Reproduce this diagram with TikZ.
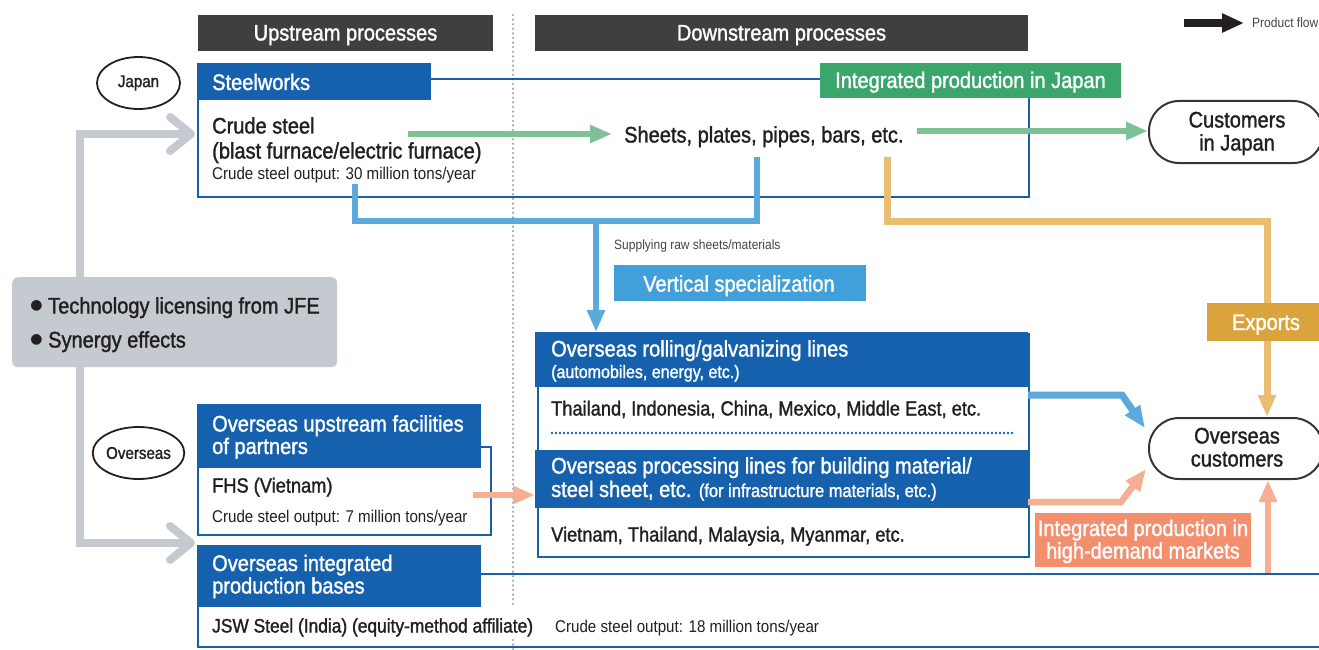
\documentclass[tikz,border=0pt]{standalone}
\usepackage{fontspec}
\setmainfont{Liberation Sans}[FakeStretch=0.89]
\newfontfamily\medfont{Liberation Sans}[FakeStretch=0.89, FakeBold=1.4]
\newfontfamily\bulfont{DejaVu Sans}
\usetikzlibrary{arrows.meta,shapes.geometric}
\definecolor{hdr}{HTML}{3F3F3F}
\definecolor{jblue}{HTML}{1561AD}
\definecolor{lblue}{HTML}{5CA9DC}
\definecolor{vsblue}{HTML}{41A0DA}
\definecolor{jgreen}{HTML}{3AA66C}
\definecolor{lgreen}{HTML}{7EC197}
\definecolor{lorange}{HTML}{E9BE70}
\definecolor{exbox}{HTML}{DBA33B}
\definecolor{lsalmon}{HTML}{F7AF94}
\definecolor{salbox}{HTML}{F48F6E}
\definecolor{lgray}{HTML}{C4CAD0}
\definecolor{dotgray}{HTML}{9AA3AD}
\definecolor{ink}{HTML}{231F20}
\definecolor{midgray}{HTML}{444444}
\tikzset{
  txt/.style={inner sep=0pt, anchor=base west, text=ink},
  big/.style={font=\medfont\fontsize{22.5}{24}\selectfont},
  med/.style={font=\medfont\fontsize{20.5}{22}\selectfont},
  small/.style={font=\fontsize{17}{19}\selectfont},
  tiny/.style={font=\fontsize{13.5}{15}\selectfont},
  fillbox/.style={anchor=north west, inner sep=0pt, draw=none},
  outline/.style={draw=jblue, line width=2pt, anchor=north west, inner sep=0pt},
  stadium/.style={draw=ink!90, line width=2pt, rounded corners=30pt, anchor=north west, inner sep=0pt},
  oval/.style={draw=ink, line width=1.8pt, ellipse, inner sep=0pt, minimum width=83pt, minimum height=52pt, text=ink, font=\medfont\fontsize{17}{19}\selectfont},
  flow/.style={line width=6.5pt, -{Triangle[width=17pt,length=22pt]}},
  gline/.style={lgray, line width=8pt},
  chev/.style={lgray, line width=8pt, line cap=round, line join=round},
}
\begin{document}
\begin{tikzpicture}[x=1pt,y=-1pt]
\useasboundingbox (0,0) rectangle (1319,650);

% divider
\coordinate (divT) at (513,15); \coordinate (divM) at (513,607);
\coordinate (divN) at (513,640); \coordinate (divB) at (513,652);
\draw[dotgray, line width=2.4pt, dash pattern=on 0pt off 4.6pt, line cap=round] (divT) -- (divM);
\draw[dotgray, line width=2.4pt, dash pattern=on 0pt off 4.6pt, line cap=round] (divN) -- (divB);

% column headers
\node[fillbox, fill=hdr, minimum width=295pt, minimum height=36pt] (uph) at (198,15) {};
\node[txt, anchor=base, text=white, big] (upt) at (345.5,40.5) {Upstream processes};
\node[fillbox, fill=hdr, minimum width=493pt, minimum height=36pt] (dnh) at (535,15) {};
\node[txt, anchor=base, text=white, big] (dnt) at (781.5,40.5) {Downstream processes};

% legend
\coordinate (lgs) at (1184,23); \coordinate (lge) at (1244,23);
\draw[line width=8pt, ink, -{Triangle[width=18pt,length=22pt]}] (lgs) -- (lge);
\node[txt, tiny, text=midgray] (lgt) at (1252,28) {Product flow};

% region ovals
\node[oval] (jp) at (138.5,83) {Japan};
\node[oval] (os) at (138.5,453) {Overseas};

% outlines
\node[outline, minimum width=831pt, minimum height=118pt] (swbox) at (197,78) {};
\node[outline, minimum width=293pt, minimum height=88pt] (oubox) at (197,446) {};
\node[outline, minimum width=1150pt, minimum height=73pt] (oibox) at (197,573) {};
\node[outline, minimum width=491pt, minimum height=223pt] (rollbox) at (537,333) {};

% gray connectors
\coordinate (gtop) at (191,134); \coordinate (gbot) at (191,543);
\coordinate (gl1) at (80,134); \coordinate (gl2) at (80,543);
\draw[gline] (gtop) -- (gl1) -- (gl2) -- (gbot);
\draw[chev] ([shift={(-21,-17)}]gtop) -- (gtop) -- ([shift={(-21,17)}]gtop);
\draw[chev] ([shift={(-21,-17)}]gbot) -- (gbot) -- ([shift={(-21,17)}]gbot);

% gray box
\node[fill=lgray, rounded corners=6pt, anchor=north west, minimum width=325pt, minimum height=90pt, inner sep=0pt] (tech) at (12,277) {};
\node[inner sep=0pt, text=ink, font=\bulfont\fontsize{14}{14}\selectfont] (bul1) at (36.5,306) {●};
\node[inner sep=0pt, text=ink, font=\bulfont\fontsize{14}{14}\selectfont] (bul2) at (36.5,340) {●};
\node[txt, big] (t1) at (48,313.5) {Technology licensing from JFE};
\node[txt, big] (t2) at (48,347.5) {Synergy effects};

% blue T connector
\coordinate (b1) at (355,184); \coordinate (bj) at (596,221); \coordinate (b2) at (757,157);
\draw[lblue, line width=6.5pt] (b1) |- (bj) -| (b2);

% orange connector
\coordinate (o1) at (887,157); \coordinate (o2) at (1267,221);

% stadium nodes
\node[stadium, minimum width=174pt, minimum height=62pt] (cj) at (1148,100) {};
\node[stadium, minimum width=174pt, minimum height=61pt] (oc) at (1148,417) {};
\node[txt, big, anchor=base] (cjt1) at (1237,127.5) {Customers};
\node[txt, big, anchor=base] (cjt2) at (1237,150.5) {in Japan};
\node[txt, big, anchor=base] (oct1) at (1237,443.5) {Overseas};
\node[txt, big, anchor=base] (oct2) at (1237,466.5) {customers};

\draw[flow, lorange, line width=7pt] (o1) |- (o2) -- (o2 |- oc.north);

% headers in blue
\node[fillbox, fill=jblue, minimum width=234pt, minimum height=37pt] (swh) at (197,63) {};
\node[txt, big, text=white] (swt) at (212,90) {Steelworks};
\node[fillbox, fill=jgreen, minimum width=301pt, minimum height=35pt] (ipj) at (820,63) {};
\node[txt, big, text=white, anchor=base] (ipjt) at (970.5,88) {Integrated production in Japan};

% crude steel
\node[txt, big] (cs1) at (212,133.5) {Crude steel};
\node[txt, big] (cs2) at (212,158.5) {(blast furnace/electric furnace)};
\node[txt, small] (cs3) at (212,179.5) {Crude steel output: 30 million tons/year};
\node[txt, big] (sh) at (624,142.5) {Sheets, plates, pipes, bars, etc.};

% green arrows
\coordinate (g1s) at (408,134); \coordinate (g2s) at (917,131);
\draw[flow, lgreen] (g1s) -- ([xshift=-12pt]g1s -| sh.west);
\draw[flow, lgreen] (g2s) -- (g2s -| cj.west) ;

% vertical specialization
\node[txt, tiny, text=midgray] (sup) at (614,249.5) {Supplying raw sheets/materials};
\node[fillbox, fill=vsblue, minimum width=252pt, minimum height=36pt] (vs) at (614,265) {};
\node[txt, big, text=white, anchor=base] (vst) at (739,291.5) {Vertical specialization};

% exports
\node[fillbox, fill=exbox, minimum width=125pt, minimum height=38pt] (ex) at (1207,303) {};
\node[txt, big, text=white, anchor=base] (ext) at (1266,330) {Exports};

% rolling lines box
\node[fillbox, fill=jblue, minimum width=493pt, minimum height=55pt] (rollh) at (535,332) {};
\draw[flow, lblue] (bj) -- (bj |- rollh.north);
\node[txt, big, text=white] (r1) at (551,356.5) {Overseas rolling/galvanizing lines};
\node[txt, text=white, font=\medfont\fontsize{18}{19}\selectfont] (r2) at (551,378) {(automobiles, energy, etc.)};
\node[txt, med] (r3) at (551,415.5) {Thailand, Indonesia, China, Mexico, Middle East, etc.};
\coordinate (d1) at (552,433); \coordinate (d2) at (1013,433);
\draw[jblue, line width=2.6pt, dash pattern=on 0pt off 4pt, line cap=round] (d1) -- (d2);
\node[fillbox, fill=jblue, minimum width=493pt, minimum height=58pt] (proch) at (535,450) {};
\node[txt, big, text=white] (p1) at (551,473.5) {Overseas processing lines for building material/};
\node[txt, big, text=white] (p2) at (551,497) {steel sheet, etc. {\fontsize{18.5}{19}\selectfont (for infrastructure materials, etc.)}};
\node[txt, med] (p3) at (551,541.5) {Vietnam, Thailand, Malaysia, Myanmar, etc.};

% overseas upstream
\node[fillbox, fill=jblue, minimum width=284pt, minimum height=64pt] (ouh) at (197,404) {};
\node[txt, big, text=white] (ou1) at (212,431.5) {Overseas upstream facilities};
\node[txt, big, text=white] (ou2) at (212,454) {of partners};
\node[txt, med] (ou3) at (212,492.5) {FHS (Vietnam)};
\node[txt, small] (ou4) at (212,522) {Crude steel output: 7 million tons/year};
\coordinate (s1) at (473,495);
\draw[flow, lsalmon, line width=6pt] (s1) -- (s1 -| proch.west);

% arrows to overseas customers
\coordinate (bb1) at (1028,395); \coordinate (bb2) at (1122,395); \coordinate (bb3) at (1145,428);
\draw[flow, lblue, line width=7pt] (bb1) -- (bb2) -- (bb3);
\coordinate (ss1) at (1028,502); \coordinate (ss2) at (1121,502); \coordinate (ss3) at (1146,469);
\draw[flow, lsalmon, line width=6.5pt] (ss1) -- (ss2) -- (ss3);
\coordinate (sv) at (1268,573);
\draw[flow, lsalmon, line width=6.5pt] (sv) -- (sv |- oc.south);

% high-demand label
\node[fillbox, fill=salbox, minimum width=216pt, minimum height=54pt] (hd) at (1035,513) {};
\node[txt, big, text=white, anchor=base] (hd1) at (1143,536) {Integrated production in};
\node[txt, big, text=white, anchor=base] (hd2) at (1143,558.5) {high-demand markets};

% overseas integrated
\node[fillbox, fill=jblue, minimum width=284pt, minimum height=62pt] (oih) at (197,545) {};
\node[txt, big, text=white] (oi1) at (212,571) {Overseas integrated};
\node[txt, big, text=white] (oi2) at (212,593.5) {production bases};
\node[txt, font=\medfont\fontsize{19.5}{21}\selectfont] (oi3) at (212,632.5) {JSW Steel (India) (equity-method affiliate)};
\node[txt, small] (oi4) at (555,632) {Crude steel output: 18 million tons/year};
\end{tikzpicture}
\end{document}
